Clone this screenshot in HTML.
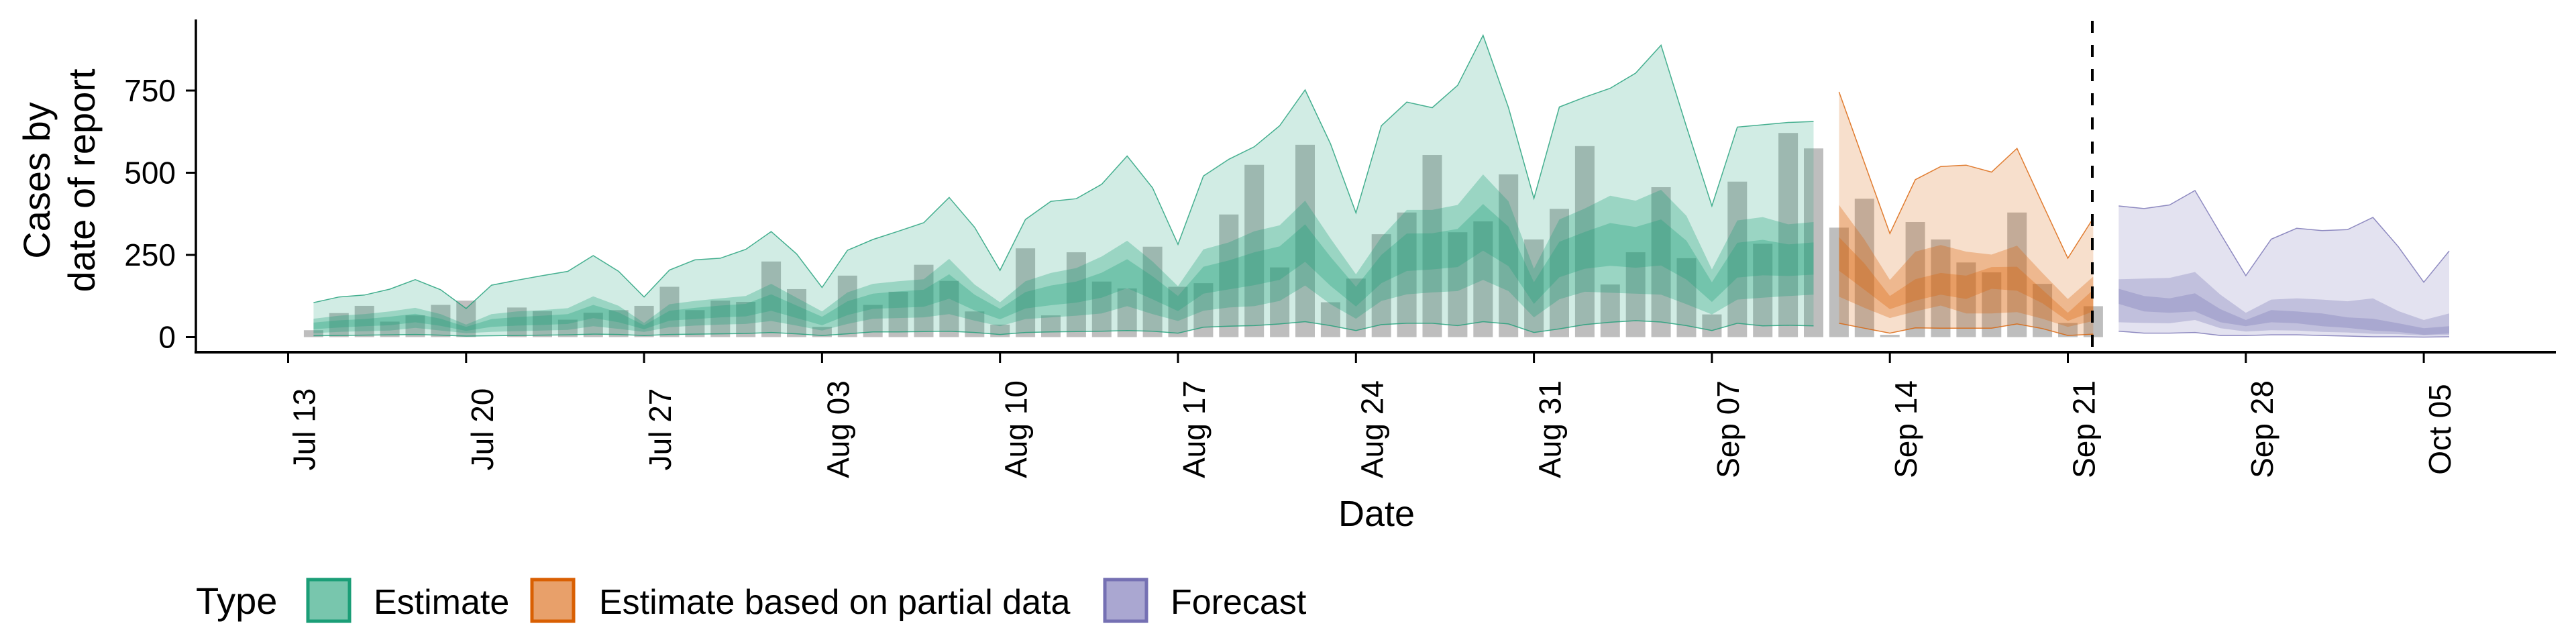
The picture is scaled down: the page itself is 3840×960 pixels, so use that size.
<!DOCTYPE html>
<html><head><meta charset="utf-8"><style>
html,body{margin:0;padding:0;background:#fff;}
svg{display:block;font-family:"Liberation Sans",sans-serif;}
</style></head><body>
<svg id="chart" width="3840" height="960" viewBox="0 0 3840 960" xmlns="http://www.w3.org/2000/svg">
<g id="bars"></g>
<g id="ribbons"></g>
<line x1="3119" y1="31" x2="3119" y2="525" stroke="#000" stroke-width="4" stroke-dasharray="18,18"/>
<g id="axes"></g>
<text transform="translate(74,269) rotate(-90)" text-anchor="middle" font-size="56">Cases by</text>
<text transform="translate(141,269) rotate(-90)" text-anchor="middle" font-size="56">date of report</text>
<text x="2052" y="784" text-anchor="middle" font-size="54">Date</text>
<g>
<text x="292" y="915" font-size="56">Type</text>
<rect x="459" y="864" width="62" height="62" fill="#78c6ad" stroke="#1b9e77" stroke-width="5"/>
<text x="557" y="915" font-size="52">Estimate</text>
<rect x="793" y="864" width="62" height="62" fill="#e8a06a" stroke="#d95f02" stroke-width="5"/>
<text x="893" y="915" font-size="52">Estimate based on partial data</text>
<rect x="1647" y="864" width="62" height="62" fill="#aaa7d1" stroke="#7570b3" stroke-width="5"/>
<text x="1745" y="915" font-size="52">Forecast</text>
</g>
</svg>
<script>
// bars: daily reported cases starting Jul 14 (day 1)
const barValues = [21,73,95,47,66,98,111,0,90,79,53,74,82,95,153,82,111,107,230,146,31,187,98,138,220,171,78,38,270,66,258,169,148,275,153,164,373,524,212,585,106,178,313,379,554,319,352,495,297,390,581,160,258,456,240,69,473,284,621,574,333,421,7,350,297,227,197,379,162,43,94];
const barStartDay = 1;
// estimate (days 1-60)
const estStart = 1;
const estU90 = [105,122,128,146,175,144,87,158,173,187,200,248,200,122,204,235,240,267,321,253,151,264,297,322,348,425,334,203,358,413,421,465,551,454,282,490,541,579,643,752,588,378,643,715,698,766,918,698,422,700,730,757,803,888,640,399,639,646,653,656];
const estU50 = [56,65,70,78,89,70,38,70,78,82,88,124,95,43,100,110,118,125,162,120,78,136,162,170,176,238,160,106,170,195,210,245,293,230,155,267,288,322,340,415,300,191,304,387,387,402,495,413,208,358,391,430,415,448,369,206,355,365,343,350];
const estU20 = [44,51,55,62,71,56,31,55,61,65,70,98,75,36,80,89,96,101,130,96,62,109,132,139,144,191,129,86,137,157,169,196,237,185,125,214,233,258,276,343,244,153,250,315,316,329,405,336,167,290,320,347,335,358,293,167,287,296,282,288];
const estL20 = [24,29,33,36,45,34,19,31,35,37,40,58,45,24,50,55,60,63,80,58,36,67,86,89,92,117,81,54,87,97,105,120,149,115,79,132,145,158,174,229,156,93,164,201,206,213,263,216,101,182,208,217,211,218,175,107,181,188,186,190];
const estL50 = [12,16,18,20,28,20,12,16,18,20,22,33,25,16,30,35,38,40,49,35,20,40,56,58,60,70,50,33,55,60,65,72,94,70,49,80,90,94,110,157,100,56,110,130,136,140,174,140,60,115,138,135,132,129,100,69,114,120,125,129];
const estL90 = [4,5,6,7,8,6,3,4,5,6,7,9,8,5,8,9,10,11,14,10,5,10,16,16,17,18,14,8,14,16,17,18,20,18,12,30,33,35,40,47,35,20,38,42,42,35,47,40,14,25,38,45,50,46,35,20,42,34,36,34];
// partial (days 61-71)
const parStart = 61;
const parU90 = [746,530,315,479,519,523,502,574,406,240,362];
const parU50 = [402,297,174,260,280,260,251,278,195,116,184];
const parU20 = [304,224,125,176,195,187,213,214,144,74,144];
const parL20 = [202,144,85,111,129,116,147,141,103,49,78];
const parL50 = [123,89,58,78,96,72,72,76,56,31,49];
const parL90 = [42,27,12,28,27,27,27,40,26,5,9];
// forecast (days 72-85)
const fcStart = 72;
const fcU90 = [399,391,402,446,315,187,298,331,324,327,364,275,167,262];
const fcU50 = [176,178,180,198,129,74,114,118,114,109,118,79,52,72];
const fcU20 = [147,125,118,133,85,52,82,78,72,60,56,42,27,33];
const fcL20 = [101,78,74,78,45,33,45,42,33,28,20,16,7,11];
const fcL50 = [45,43,42,52,27,17,21,20,16,14,10,9,5,7];
const fcL90 = [18,12,12,14,5,5,7,7,5,3,1,1,0,1];
// axes
const yTicks = [0,250,500,750];
const xTickDays = [0,7,14,21,28,35,42,49,56,63,70,77,84];
const xTickLabels = ['Jul 13','Jul 20','Jul 27','Aug 03','Aug 10','Aug 17','Aug 24','Aug 31','Sep 07','Sep 14','Sep 21','Sep 28','Oct 05'];

const NS='http://www.w3.org/2000/svg';
const x = d => 429.5 + d*37.9;
const y = v => 502.5 - v*0.49;
function mk(tag, attrs, parent){const e=document.createElementNS(NS,tag);for(const k in attrs)e.setAttribute(k,attrs[k]);parent.appendChild(e);return e;}

const gb=document.getElementById('bars');
barValues.forEach((v,i)=>{
  const d=barStartDay+i;
  const r=mk('rect',{x:x(d)-14.5,y:y(v),width:29,height:Math.max(0,y(0)-y(v)),fill:'#bebebe'},gb);
  
  
});

const gr=document.getElementById('ribbons');
function ribbon(start, up, lo, color, op, name, outline){
  let pts=[];
  up.forEach((v,i)=>pts.push(x(start+i).toFixed(1)+','+y(v).toFixed(1)));
  for(let i=lo.length-1;i>=0;i--)pts.push(x(start+i).toFixed(1)+','+y(lo[i]).toFixed(1));
  const p=mk('polygon',{points:pts.join(' '),fill:color,'fill-opacity':op},gr);
  
  
  if(outline){
    [up,lo].forEach(arr=>{
      const l=mk('polyline',{points:arr.map((v,i)=>x(start+i).toFixed(1)+','+y(v).toFixed(1)).join(' '),fill:'none',stroke:color,'stroke-width':1.5,'stroke-opacity':0.8},gr);
      
      
    });
  }
}
[[estStart,estU90,estU50,estU20,estL20,estL50,estL90,'#1b9e77','estimate'],
 [parStart,parU90,parU50,parU20,parL20,parL50,parL90,'#d95f02','partial'],
 [fcStart,fcU90,fcU50,fcU20,fcL20,fcL50,fcL90,'#7570b3','forecast']].forEach(s=>{
  ribbon(s[0],s[1],s[6],s[7],0.2,s[8]+'-ribbon-90',true);
  ribbon(s[0],s[2],s[5],s[7],0.3,s[8]+'-ribbon-50',false);
  ribbon(s[0],s[3],s[4],s[7],0.3,s[8]+'-ribbon-20',false);
});

const ga=document.getElementById('axes');
const ya=mk('line',{x1:292,y1:29,x2:292,y2:527,stroke:'#000','stroke-width':3.5},ga);


const xa=mk('line',{x1:290,y1:525,x2:3810,y2:525,stroke:'#000','stroke-width':4},ga);


yTicks.forEach(v=>{
  const t=mk('line',{x1:277,y1:y(v),x2:292,y2:y(v),stroke:'#000','stroke-width':3},ga);
  
  
  const lb=mk('text',{x:262,y:y(v)+16,'text-anchor':'end','font-size':46},ga);
  lb.textContent=v;
  
  
});
xTickDays.forEach((d,i)=>{
  const t=mk('line',{x1:x(d),y1:525,x2:x(d),y2:541,stroke:'#000','stroke-width':3},ga);
  
  
  const lb=mk('text',{transform:'translate('+(x(d)+40)+',640) rotate(-90)','text-anchor':'middle','font-size':46},ga);
  lb.textContent=xTickLabels[i];
  
  
});
</script>
</body></html>
